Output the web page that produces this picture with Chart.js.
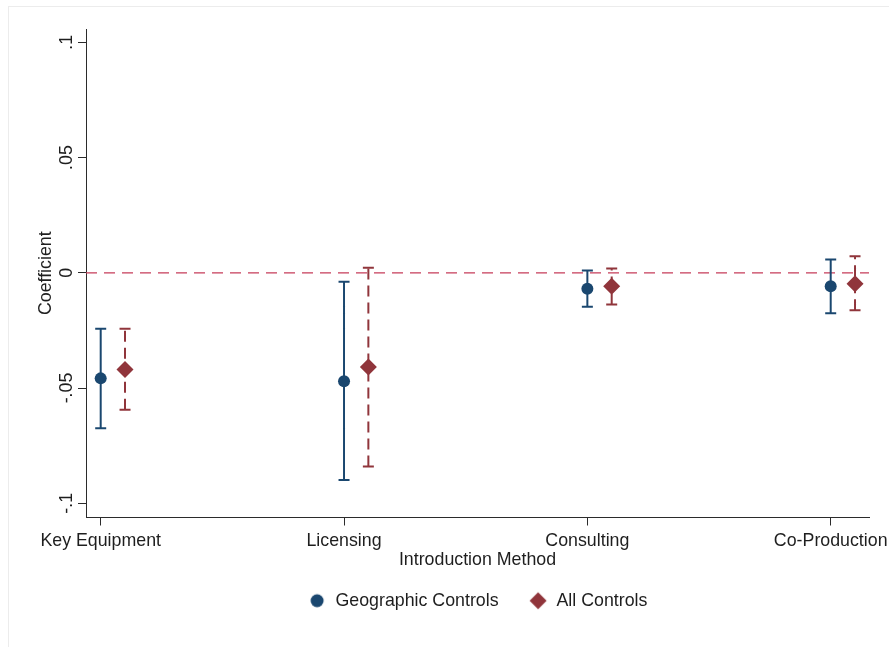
<!DOCTYPE html>
<html>
<head>
<meta charset="utf-8">
<title>Coefficients by Introduction Method</title>
<script src="https://cdn.jsdelivr.net/npm/chart.js@4/dist/chart.umd.min.js"></script>
<style>
  html, body { margin: 0; padding: 0; background: #ffffff; }
  #wrap { width: 889px; height: 647px; }
</style>
</head>
<body>
<div id="wrap"><canvas id="chart" width="889" height="647"></canvas></div>
<script>
// Point estimates and 95% confidence bounds per introduction method
const categories = ['Key Equipment', 'Licensing', 'Consulting', 'Co-Production'];

const geoCoef = [-0.0458, -0.0470, -0.0069, -0.0058];
const geoLow  = [-0.0674, -0.0899, -0.0147, -0.0176];
const geoHigh = [-0.0243, -0.0039,  0.0010,  0.0058];

const allCoef = [-0.0419, -0.0409, -0.0058, -0.0048];
const allLow  = [-0.0594, -0.0840, -0.0137, -0.0163];
const allHigh = [-0.0243,  0.0022,  0.0019,  0.0072];

const yTickValues = [-0.1, -0.05, 0, 0.05, 0.1];
const yTickLabels = ['-.1', '-.05', '0', '.05', '.1'];

// Styling and axis geometry
const FAMILY = "'Liberation Sans', Arial, Helvetica, sans-serif";
const FONT = { family: FAMILY, size: 17.8 };
const NAVY = '#1a476f';
const MAROON = '#90353b';
const REF = '#c63d5a';
const INK = '#1e1e1e';
const AXIS = '#2b2b2b';
const SHIFT = 0.1;           // horizontal offset of the second series
const X_MIN = 0.9396, X_MAX = 4.1574;
const Y_MIN = -0.10616, Y_MAX = 0.10577;

const xs = categories.map((_, i) => i + 1);
const points = (vals, dx) => vals.map((v, i) => ({ x: xs[i] + dx, y: v }));
const whiskers = (lo, hi, dx) => lo.flatMap((v, i) => [
  { x: xs[i] + dx, y: v },
  { x: xs[i] + dx, y: hi[i] },
  { x: xs[i] + dx, y: null }
]);

function legendMarker(kind, color) {
  const c = document.createElement('canvas');
  c.width = 20; c.height = 20;
  const g = c.getContext('2d');
  g.fillStyle = color;
  g.beginPath();
  if (kind === 'circle') {
    g.arc(10, 10, 6.5, 0, Math.PI * 2);
  } else {
    g.moveTo(10, 1.5); g.lineTo(18.5, 10); g.lineTo(10, 18.5); g.lineTo(1.5, 10);
    g.closePath();
  }
  g.fill();
  return c;
}
const legendMarkers = [legendMarker('circle', NAVY), legendMarker('diamond', MAROON)];

// Faint outer frame around the graph region
const framePlugin = {
  id: 'frame',
  beforeDraw(chart) {
    const ctx = chart.ctx;
    ctx.save();
    ctx.fillStyle = '#ffffff';
    ctx.fillRect(0, 0, chart.width, chart.height);
    ctx.strokeStyle = '#ececec';
    ctx.lineWidth = 1;
    ctx.strokeRect(8.5, 6.5, chart.width + 10, chart.height + 10);
    ctx.restore();
  }
};

// Vertical tick labels on the y axis, placed from the scale's own ticks
const yLabelPlugin = {
  id: 'yLabels',
  afterDraw(chart) {
    const scale = chart.scales.y;
    const ctx = chart.ctx;
    ctx.save();
    ctx.fillStyle = INK;
    ctx.font = `${FONT.size}px ${FONT.family}`;
    ctx.textAlign = 'center';
    ctx.textBaseline = 'alphabetic';
    scale.ticks.forEach((t, i) => {
      const y = scale.getPixelForValue(t.value);
      ctx.save();
      ctx.translate(72, y);
      ctx.rotate(-Math.PI / 2);
      ctx.fillText(yTickLabels[i], 0, 0);
      ctx.restore();
    });
    ctx.restore();
  }
};

new Chart(document.getElementById('chart'), {
  type: 'scatter',
  data: {
    datasets: [
      {
        label: 'Geographic Controls',
        data: points(geoCoef, 0),
        pointStyle: 'circle',
        pointRadius: 6,
        pointBackgroundColor: NAVY,
        pointBorderColor: NAVY,
        pointBorderWidth: 0,
        backgroundColor: NAVY,
        borderColor: NAVY,
        order: 0
      },
      {
        label: 'All Controls',
        data: points(allCoef, SHIFT),
        pointStyle: 'rectRot',
        pointRadius: 8.5,
        pointBackgroundColor: MAROON,
        pointBorderColor: MAROON,
        pointBorderWidth: 0,
        backgroundColor: MAROON,
        borderColor: MAROON,
        order: 0
      },
      {
        label: 'Geographic Controls CI',
        data: whiskers(geoLow, geoHigh, 0),
        showLine: true,
        spanGaps: false,
        borderColor: NAVY,
        borderWidth: 2,
        pointStyle: 'line',
        pointRadius: 5.5,
        pointBorderWidth: 2,
        pointBorderColor: NAVY,
        pointBackgroundColor: NAVY,
        order: 1
      },
      {
        label: 'All Controls CI',
        data: whiskers(allLow, allHigh, SHIFT),
        showLine: true,
        spanGaps: false,
        borderColor: MAROON,
        borderWidth: 2,
        borderDash: [11, 6],
        pointStyle: 'line',
        pointRadius: 5.5,
        pointBorderWidth: 2,
        pointBorderColor: MAROON,
        pointBackgroundColor: MAROON,
        order: 1
      },
      {
        label: 'Zero',
        data: [{ x: X_MIN, y: 0 }, { x: X_MAX, y: 0 }],
        showLine: true,
        borderColor: REF,
        borderWidth: 1.3,
        borderDash: [11, 7],
        pointRadius: 0,
        order: 2
      }
    ]
  },
  options: {
    responsive: false,
    animation: false,
    events: [],
    devicePixelRatio: 1,
    layout: { padding: { top: 29, right: 20, bottom: 27.4, left: 0 } },
    plugins: {
      tooltip: { enabled: false },
      legend: {
        position: 'bottom',
        fullSize: false,
        labels: {
          usePointStyle: true,
          pointStyleWidth: 19,
          padding: 30,
          font: FONT,
          color: INK,
          filter: item => item.datasetIndex < 2,
          generateLabels: chart => Chart.defaults.plugins.legend.labels.generateLabels(chart)
            .map(item => item.datasetIndex < 2
              ? Object.assign(item, { pointStyle: legendMarkers[item.datasetIndex] })
              : item)
        }
      }
    },
    scales: {
      x: {
        type: 'linear',
        position: 'bottom',
        min: X_MIN,
        max: X_MAX,
        bounds: 'data',
        afterBuildTicks: s => { s.ticks = xs.map(v => ({ value: v })); },
        afterFit: s => { s.height = 44.3; s.paddingLeft = 0; s.paddingRight = 0; },
        ticks: {
          autoSkip: false,
          maxRotation: 0,
          minRotation: 0,
          padding: 5.4,
          font: FONT,
          color: INK,
          callback: v => categories[v - 1] ?? ''
        },
        grid: { drawOnChartArea: false, drawTicks: true, tickLength: 8, color: AXIS, lineWidth: 1 },
        border: { display: true, color: AXIS, width: 1 },
        title: {
          display: true,
          text: 'Introduction Method',
          font: FONT,
          color: INK,
          padding: { top: 0, bottom: -8.6 }
        }
      },
      y: {
        type: 'linear',
        position: 'left',
        min: Y_MIN,
        max: Y_MAX,
        bounds: 'data',
        afterBuildTicks: s => { s.ticks = yTickValues.map(v => ({ value: v })); },
        afterFit: s => { s.width = 86; s.paddingTop = 0; s.paddingBottom = 0; },
        ticks: { display: false },
        grid: { drawOnChartArea: false, drawTicks: true, tickLength: 8, color: AXIS, lineWidth: 1 },
        border: { display: true, color: AXIS, width: 1 },
        title: {
          display: true,
          text: 'Coefficient',
          font: FONT,
          color: INK,
          padding: { top: 35.1, bottom: 0 }
        }
      }
    }
  },
  plugins: [framePlugin, yLabelPlugin]
});
</script>
</body>
</html>
